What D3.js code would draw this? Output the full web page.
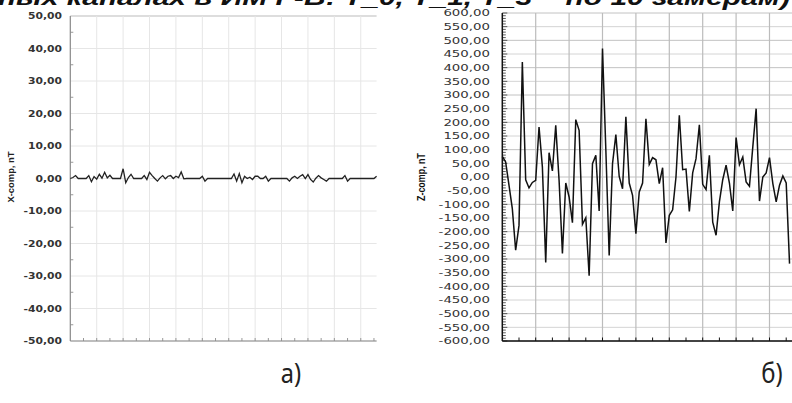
<!DOCTYPE html>
<html lang="ru">
<head>
<meta charset="UTF-8">
<title>X-comp / Z-comp</title>
<script src="https://cdn.jsdelivr.net/npm/d3@7"></script>
<style>
    body { margin: 0; background: #fff; }
    svg { display: block; }
</style>
</head>
<body>
<script>
    // --- данные ---
    var titleText = "ных каналах в ИМ Г-В: Т_0, Т_1, Т_3 – по 10 замерам)";

    // а) X-comp, nT
    var xcompValues = [
        0, 0.3, 0.9, 0, 0, 0, 0, 0.9, -1.0, 0.6,
        -0.2, 1.3, 0.1, 1.9, 0.2, 1.0, 0, 0, 0, 0,
        3.0, -1.3, 0.3, 1.3, 0, 0, 0, 0, 0.9, -0.3,
        1.9, 0.9, 0, -0.8, 0.2, 0.9, -0.1, 0.7, 0.9, 0,
        0.7, 0.3, 2.0, -0.1, 0, 0, 0, 0, 0, 0,
        0.7, -0.8, 0, 0, 0, 0, 0, 0, 0, 0,
        0, 0, 1.4, -0.8, 1.5, -1.3, 0.7, 0, 0.4, -0.3,
        0.7, 0.7, 0, 0, 0.7, -0.8, 0, 0, 0, 0,
        0, 0, 0, -0.8, 0.2, 0.7, 0, 0.7, 1.2, 0,
        1.2, -0.3, -1.1, 0.1, 0.9, 0.2, -0.3, -0.8, 0, 0,
        0, 0, 0, 0, 0.9, -0.8, 0, 0, 0, 0,
        0, 0, 0, 0, 0, 0, 0.7
    ];
    var xcompTicks = [-50, -40, -30, -20, -10, 0, 10, 20, 30, 40, 50];
    var xcompLabel = "X-comp, nT";

    // б) Z-comp, nT
    var zcompValues = [
        75, 55, -30, -116, -268, -177, 421, -10, -40, -20,
        -12, 183, 37, -313, 89, 22, 189, -12, -280, -22,
        -73, -167, 210, 171, -173, -149, -361, 49, 79, -124,
        470, 100, -287, 49, 155, 2, -43, 220, -22, -67,
        -207, -55, -22, 213, 46, 71, 63, -24, 34, -241,
        -140, -120, 0, 226, 27, 29, -126, 15, 67, 191,
        -27, -46, 79, -165, -213, -91, -10, 43, -22, -124,
        144, 45, 73, -18, -34, 110, 250, -88, 0, 15,
        71, -24, -91, -30, 4, -22, -317
    ];
    var zcompTicks = d3.range(-600, 601, 50);
    var zcompLabel = "Z-comp, nT";

    var panelLabels = ["а)", "б)"];

    function fmt(v) {   // 10 -> "10,00", -50 -> "-50,00"
        return (v < 0 ? "-" : "") + Math.abs(v).toFixed(2).replace(".", ",");
    }

    var svg = d3.select("body").append("svg")
        .attr("width", 792)
        .attr("height", 403);

    svg.append("rect").attr("width", 792).attr("height", 403).attr("fill", "#fff");

    // ---------- а) ----------
    var xL = d3.scaleLinear().domain([0, 116]).range([70.3, 376.6]);
    var yL = d3.scaleLinear().domain([-50, 50]).range([341, 16]);

    var gL = svg.append("g");

    // сетка
    gL.selectAll(".hgrid").data(xcompTicks).enter().append("line")
        .attr("x1", xL(0)).attr("x2", xL(116))
        .attr("y1", d => yL(d)).attr("y2", d => yL(d))
        .attr("stroke", d => d == 50 ? "#bbb" : "#e6e6e6").attr("stroke-width", 1);
    gL.selectAll(".vgrid").data(d3.range(10, 116, 10)).enter().append("line")
        .attr("x1", d => xL(d)).attr("x2", d => xL(d))
        .attr("y1", yL(50)).attr("y2", yL(-50))
        .attr("stroke", "#e6e6e6").attr("stroke-width", 1);

    // мелкие засечки
    gL.selectAll(".ytick").data(d3.range(-45, 50, 10)).enter().append("line")
        .attr("x1", xL(0)).attr("x2", xL(0) + 3)
        .attr("y1", d => yL(d)).attr("y2", d => yL(d))
        .attr("stroke", "#999");
    gL.selectAll(".xtick").data(d3.range(5, 116, 5)).enter().append("line")
        .attr("x1", d => xL(d)).attr("x2", d => xL(d))
        .attr("y1", yL(-50)).attr("y2", yL(-50) - 3)
        .attr("stroke", "#999");

    // оси
    gL.append("line").attr("x1", xL(0)).attr("x2", xL(0))
        .attr("y1", yL(50)).attr("y2", yL(-50)).attr("stroke", "#888").attr("stroke-width", 1.2);
    gL.append("line").attr("x1", xL(0)).attr("x2", xL(116))
        .attr("y1", yL(-50)).attr("y2", yL(-50)).attr("stroke", "#888").attr("stroke-width", 1.2);

    gL.selectAll(".ylab").data(xcompTicks).enter().append("text")
        .attr("transform", d => "translate(62," + (yL(d) + 3) + ") scale(1.3,1)")
        .attr("text-anchor", "end")
        .attr("font-family", "DejaVu Sans")
        .attr("font-weight", "bold")
        .attr("font-size", "8.3px")
        .attr("fill", "#333")
        .text(fmt);

    gL.append("text")
        .attr("transform", "translate(14,177) rotate(-90)")
        .attr("text-anchor", "middle")
        .attr("font-family", "Liberation Sans")
        .attr("font-weight", "bold")
        .attr("font-size", "9px")
        .attr("textLength", 51).attr("lengthAdjust", "spacingAndGlyphs")
        .attr("fill", "#222")
        .text(xcompLabel);

    gL.append("path")
        .datum(xcompValues)
        .attr("fill", "none")
        .attr("stroke", "#222")
        .attr("stroke-width", 1.3)
        .attr("d", d3.line().x((d, i) => xL(i)).y(d => yL(d)));

    // ---------- б) ----------
    var xR = d3.scaleLinear().domain([0, 116]).range([502.3, 502.3 + 116 * 3.34]);
    var yR = d3.scaleLinear().domain([-600, 600]).range([341, 13]);

    var gR = svg.append("g");

    gR.selectAll(".hgrid").data(zcompTicks).enter().append("line")
        .attr("x1", xR(0)).attr("x2", xR(116))
        .attr("y1", d => yR(d)).attr("y2", d => yR(d))
        .attr("stroke", (d, i) => i % 2 ? "#d4d4d4" : "#c2c2c2").attr("stroke-width", 1);
    gR.selectAll(".vgrid").data(d3.range(10, 116, 10)).enter().append("line")
        .attr("x1", d => xR(d)).attr("x2", d => xR(d))
        .attr("y1", yR(600)).attr("y2", yR(-600))
        .attr("stroke", "#bcbcbc").attr("stroke-width", 1.2);

    gR.selectAll(".ytick").data(d3.range(-600, 601, 10)).enter().append("line")
        .attr("x1", xR(0)).attr("x2", d => xR(0) + (d % 50 == 0 ? 5 : 3.5))
        .attr("y1", d => yR(d)).attr("y2", d => yR(d))
        .attr("stroke", "#333").attr("stroke-width", 0.8);
    gR.selectAll(".xtick").data(d3.range(5, 116, 5)).enter().append("line")
        .attr("x1", d => xR(d)).attr("x2", d => xR(d))
        .attr("y1", yR(-600)).attr("y2", yR(-600) - 3.5)
        .attr("stroke", "#111");

    gR.append("line").attr("x1", xR(0)).attr("x2", xR(0))
        .attr("y1", yR(600)).attr("y2", yR(-600)).attr("stroke", "#111").attr("stroke-width", 1.5);
    gR.append("line").attr("x1", xR(0)).attr("x2", xR(116))
        .attr("y1", yR(-600)).attr("y2", yR(-600)).attr("stroke", "#111").attr("stroke-width", 1.5);

    gR.selectAll(".ylab").data(zcompTicks).enter().append("text")
        .attr("transform", d => "translate(490," + (yR(d) + 3.3) + ") scale(1.45,1)")
        .attr("text-anchor", "end")
        .attr("font-family", "DejaVu Sans")
        .attr("font-size", "9.2px")
        .attr("fill", "#333")
        .text(fmt);

    gR.append("text")
        .attr("transform", "translate(425,177) rotate(-90)")
        .attr("text-anchor", "middle")
        .attr("font-family", "Liberation Sans")
        .attr("font-weight", "bold")
        .attr("font-size", "10.5px")
        .attr("textLength", 48).attr("lengthAdjust", "spacingAndGlyphs")
        .attr("fill", "#111")
        .text(zcompLabel);

    gR.append("path")
        .datum(zcompValues)
        .attr("fill", "none")
        .attr("stroke", "#111")
        .attr("stroke-width", 1.5)
        .attr("d", d3.line().x((d, i) => xR(i)).y(d => yR(d)));

    // ---------- подписи ----------
    svg.append("text")
        .attr("x", -2).attr("y", 5)
        .attr("font-family", "Liberation Sans")
        .attr("font-weight", "bold")
        .attr("font-style", "italic")
        .attr("font-size", "22px")
        .attr("textLength", 792).attr("lengthAdjust", "spacingAndGlyphs")
        .attr("fill", "#111")
        .text(titleText);

    svg.selectAll(".panel").data(panelLabels).enter().append("text")
        .attr("transform", (d, i) => "translate(" + (i == 0 ? 291 : 772) + ",383) scale(0.85,1)")
        .attr("text-anchor", "middle")
        .attr("font-family", "Noto Sans")
        .attr("font-size", "28px")
        .attr("fill", "#222")
        .text(d => d);
</script>
</body>
</html>
